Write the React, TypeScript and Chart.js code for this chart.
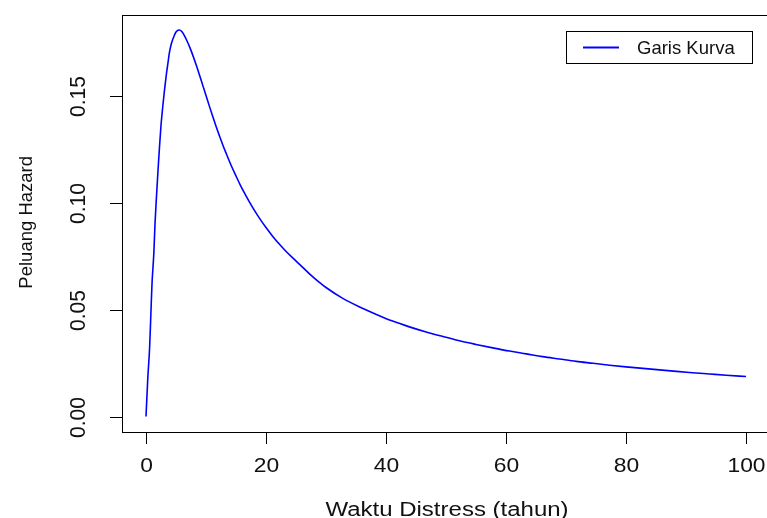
import React, { useEffect, useRef } from "react";
import { Chart, registerables } from "chart.js";

Chart.register(...registerables);

// Time (years)
const timeYears = [
  0, 0.3, 0.6, 0.8, 1.0, 1.3, 1.5, 1.75, 2.0, 2.25, 2.5, 2.8, 3.1, 3.4, 3.65, 3.9,
  4.2, 4.5, 4.75, 5.0, 5.5, 6.0, 6.7, 7.4, 8.4, 8.9, 9.5, 10, 10.6, 11.1, 11.7,
  12.25, 12.8, 13.4, 14.2, 15, 15.7, 16.4, 17.25, 18.1, 18.9, 20, 21.1, 22.25,
  23.4, 24.5, 25.6, 27.25, 28.9, 30, 32.8, 35.6, 38.4, 41.1, 43.9, 46.7, 49.5,
  52.25, 55, 57.8, 60.6, 63.4, 66.1, 68.9, 71.7, 74.5, 77.25, 80, 82.8, 85.6,
  88.4, 91.1, 93.9, 96.7, 100,
];

// Hazard probability
const hazard = [
  0, 0.018, 0.032, 0.047, 0.062, 0.076, 0.09, 0.103, 0.115, 0.126, 0.136, 0.145,
  0.153, 0.16, 0.165, 0.17, 0.174, 0.1765, 0.1783, 0.1797, 0.1806, 0.1798, 0.1763,
  0.1718, 0.164, 0.1597, 0.1544, 0.15, 0.1447, 0.1404, 0.1354, 0.1311, 0.1269,
  0.1227, 0.1173, 0.1124, 0.1083, 0.1045, 0.1002, 0.0962, 0.0927, 0.0883, 0.0843,
  0.0805, 0.077, 0.074, 0.0711, 0.0667, 0.0627, 0.0603, 0.0552, 0.0512, 0.0477,
  0.0446, 0.0419, 0.0395, 0.0374, 0.0354, 0.0337, 0.0321, 0.0306, 0.0293, 0.028,
  0.0269, 0.0258, 0.0249, 0.024, 0.0232, 0.0225, 0.0218, 0.0211, 0.0205, 0.0199,
  0.0193, 0.0187,
];

const xTicks = [0, 20, 40, 60, 80, 100];
const yTicks = [0, 0.05, 0.1, 0.15];
const yTickLabels = ["0.00", "0.05", "0.10", "0.15"];
const xTitle = "Waktu Distress (tahun)";
const yTitle = "Peluang Hazard";
const seriesLabel = "Garis Kurva";

const FONT = '"Liberation Sans", Arial, sans-serif';

const rStylePlot = {
  id: "rStylePlot",
  afterDraw(chart: any) {
    const ctx: CanvasRenderingContext2D = chart.ctx;
    const { left, right, top, bottom } = chart.chartArea;
    const xs = chart.scales.x;
    const ys = chart.scales.y;
    ctx.save();
    ctx.strokeStyle = "#000";
    ctx.fillStyle = "#111";
    ctx.lineWidth = 1;

    // plot box
    ctx.strokeRect(
      Math.round(left) + 0.5,
      Math.round(top) + 0.5,
      Math.round(right - left),
      Math.round(bottom - top)
    );

    // x axis ticks + labels
    ctx.textAlign = "center";
    ctx.textBaseline = "alphabetic";
    xTicks.forEach((v) => {
      const px = Math.round(xs.getPixelForValue(v)) + 0.5;
      ctx.beginPath();
      ctx.moveTo(px, Math.round(bottom));
      ctx.lineTo(px, Math.round(bottom) + 12);
      ctx.stroke();
      ctx.save();
      ctx.font = `19.5px ${FONT}`;
      ctx.translate(px, bottom + 39.5);
      ctx.scale(1.17, 1);
      ctx.fillText(String(v), 0, 0);
      ctx.restore();
    });

    // y axis ticks + labels (rotated like R's las=0)
    yTicks.forEach((v, i) => {
      const py = Math.round(ys.getPixelForValue(v)) + 0.5;
      ctx.beginPath();
      ctx.moveTo(Math.round(left) - 12, py);
      ctx.lineTo(Math.round(left), py);
      ctx.stroke();
      ctx.save();
      ctx.font = `21px ${FONT}`;
      ctx.translate(left - 37, py);
      ctx.scale(1.05, 1);
      ctx.rotate(-Math.PI / 2);
      ctx.fillText(yTickLabels[i], 0, 0);
      ctx.restore();
    });

    // x title
    const cx = (left + right) / 2 + 1;
    ctx.save();
    ctx.font = `20px ${FONT}`;
    ctx.translate(cx, bottom + 83.5);
    ctx.scale(1.2, 1);
    ctx.fillText(xTitle, 0, 0);
    ctx.restore();

    // y title
    ctx.save();
    ctx.font = `18.5px ${FONT}`;
    ctx.translate(left - 90, (top + bottom) / 2 - 1);
    ctx.rotate(-Math.PI / 2);
    ctx.fillText(yTitle, 0, 0);
    ctx.restore();

    // legend
    const ds = chart.data.datasets[0];
    const bx = right - 204;
    const by = top + 16;
    ctx.strokeStyle = "#000";
    ctx.lineWidth = 1;
    ctx.strokeRect(Math.round(bx) + 0.5, Math.round(by) + 0.5, 186, 32);
    ctx.strokeStyle = ds.borderColor;
    ctx.lineWidth = 2;
    ctx.beginPath();
    ctx.moveTo(bx + 17, by + 17);
    ctx.lineTo(bx + 53, by + 17);
    ctx.stroke();
    ctx.font = `18.5px ${FONT}`;
    ctx.textAlign = "left";
    ctx.fillText(ds.label, bx + 71, by + 23.5);
    ctx.restore();
  },
};

export default function App() {
  const ref = useRef<HTMLCanvasElement>(null);

  useEffect(() => {
    if (!ref.current) return;
    const points = timeYears.map((t, i) => ({ x: t, y: hazard[i] }));
    const chart = new Chart(ref.current, {
      type: "line",
      data: {
        datasets: [
          {
            label: seriesLabel,
            data: points,
            borderColor: "#0000FF",
            borderWidth: 1.6,
            pointRadius: 0,
            tension: 0.2,
            cubicInterpolationMode: "monotone",
            fill: false,
          },
        ],
      },
      options: {
        responsive: false,
        animation: false,
        devicePixelRatio: 1,
        layout: { padding: { left: 122, top: 14.6, right: 5, bottom: 86 } },
        plugins: {
          legend: { display: false },
          tooltip: { enabled: false },
          title: { display: false },
        },
        scales: {
          x: { type: "linear", min: -4, max: 104, display: false },
          y: { type: "linear", min: -0.00722, max: 0.18782, display: false },
        },
      },
      plugins: [rStylePlot],
    });
    return () => chart.destroy();
  }, []);

  return (
    <div
      style={{
        position: "absolute",
        left: 0,
        top: 0,
        width: 767,
        height: 518,
        overflow: "hidden",
        background: "#fff",
      }}
    >
      <canvas
        ref={ref}
        width={775}
        height={518}
        style={{ display: "block", width: 775, height: 518 }}
      />
    </div>
  );
}
